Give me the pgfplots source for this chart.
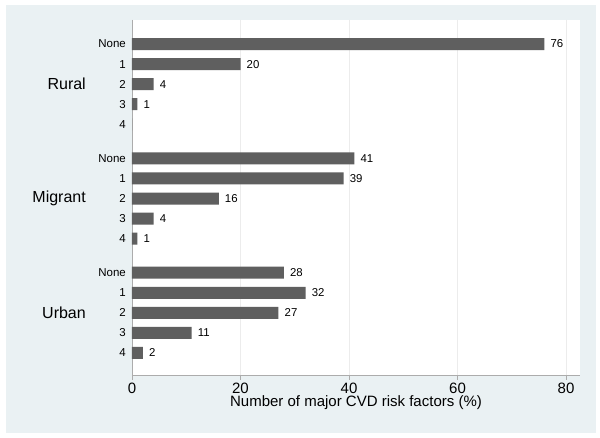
\documentclass[border=0pt]{standalone}
\usepackage{pgfplots}
\pgfplotsset{compat=1.18}
\usepackage{fontspec}
\setmainfont{Liberation Sans}
\definecolor{bgblue}{RGB}{234,241,243}
\definecolor{barg}{RGB}{95,95,95}
\begin{document}
\begin{tikzpicture}
\useasboundingbox (-132pt,-63pt) rectangle (468pt,375pt);
\fill[white] (-132pt,-63pt) rectangle (468pt,375pt);
\fill[bgblue] (-126pt,-58pt) rectangle (464pt,370pt);
\begin{axis}[
  at={(0pt,0pt)}, anchor=south west,
  scale only axis, width=448pt, height=355pt,
  xbar, bar width=12pt, bar shift=0pt,
  xmin=0, xmax=82.58,
  ymin=-1.2, ymax=16.5, y dir=reverse,
  axis background/.style={fill=white},
  axis x line*=bottom, axis y line*=left,
  axis line style={draw=gray!65, line width=0.8pt},
  xtick={0,20,40,60,80},
  xmajorgrids, grid style={draw=gray!15, line width=0.6pt},
  x tick style={draw=gray!65, line width=0.8pt},
  tick align=outside, major tick length=5pt,
  /pgf/number format/assume math mode=true,
  xticklabel style={font=\fontsize{15}{17}\selectfont, anchor=base, inner sep=0pt, yshift=-13pt},
  xlabel={Number of major CVD risk factors (\%)},
  xlabel style={at={(axis description cs:0.5,0)}, anchor=base, inner sep=0pt, yshift=-31pt, font=\fontsize{15}{17}\selectfont},
  ytick={0,1,2,3,4,5.7,6.7,7.7,8.7,9.7,11.4,12.4,13.4,14.4,15.4},
  yticklabels={None,1,2,3,4,None,1,2,3,4,None,1,2,3,4},
  y tick style={draw=none},
  yticklabel style={font=\fontsize{11.5}{13}\selectfont, anchor=east, inner sep=0pt, xshift=-1pt},
  extra y ticks={2,7.7,13.4},
  extra y tick labels={Rural,Migrant,Urban},
  extra y tick style={ymajorgrids=false, xmajorgrids=false, major tick length=0pt,
    yticklabel style={font=\fontsize{16}{19}\selectfont, anchor=east, inner sep=0pt, xshift=-45pt}},
  nodes near coords, point meta=x,
  nodes near coords style={font=\fontsize{11.4}{13}\selectfont, anchor=west, inner sep=0pt, xshift=6pt, text=black},
]
\addplot[fill=barg, draw=none] coordinates {
(76,0) (20,1) (4,2) (1,3)
(41,5.7) (39,6.7) (16,7.7) (4,8.7) (1,9.7)
(28,11.4) (32,12.4) (27,13.4) (11,14.4) (2,15.4)
};
\addplot[fill=barg, draw=none, nodes near coords=] coordinates {(0,4)};
\end{axis}
\end{tikzpicture}
\end{document}
